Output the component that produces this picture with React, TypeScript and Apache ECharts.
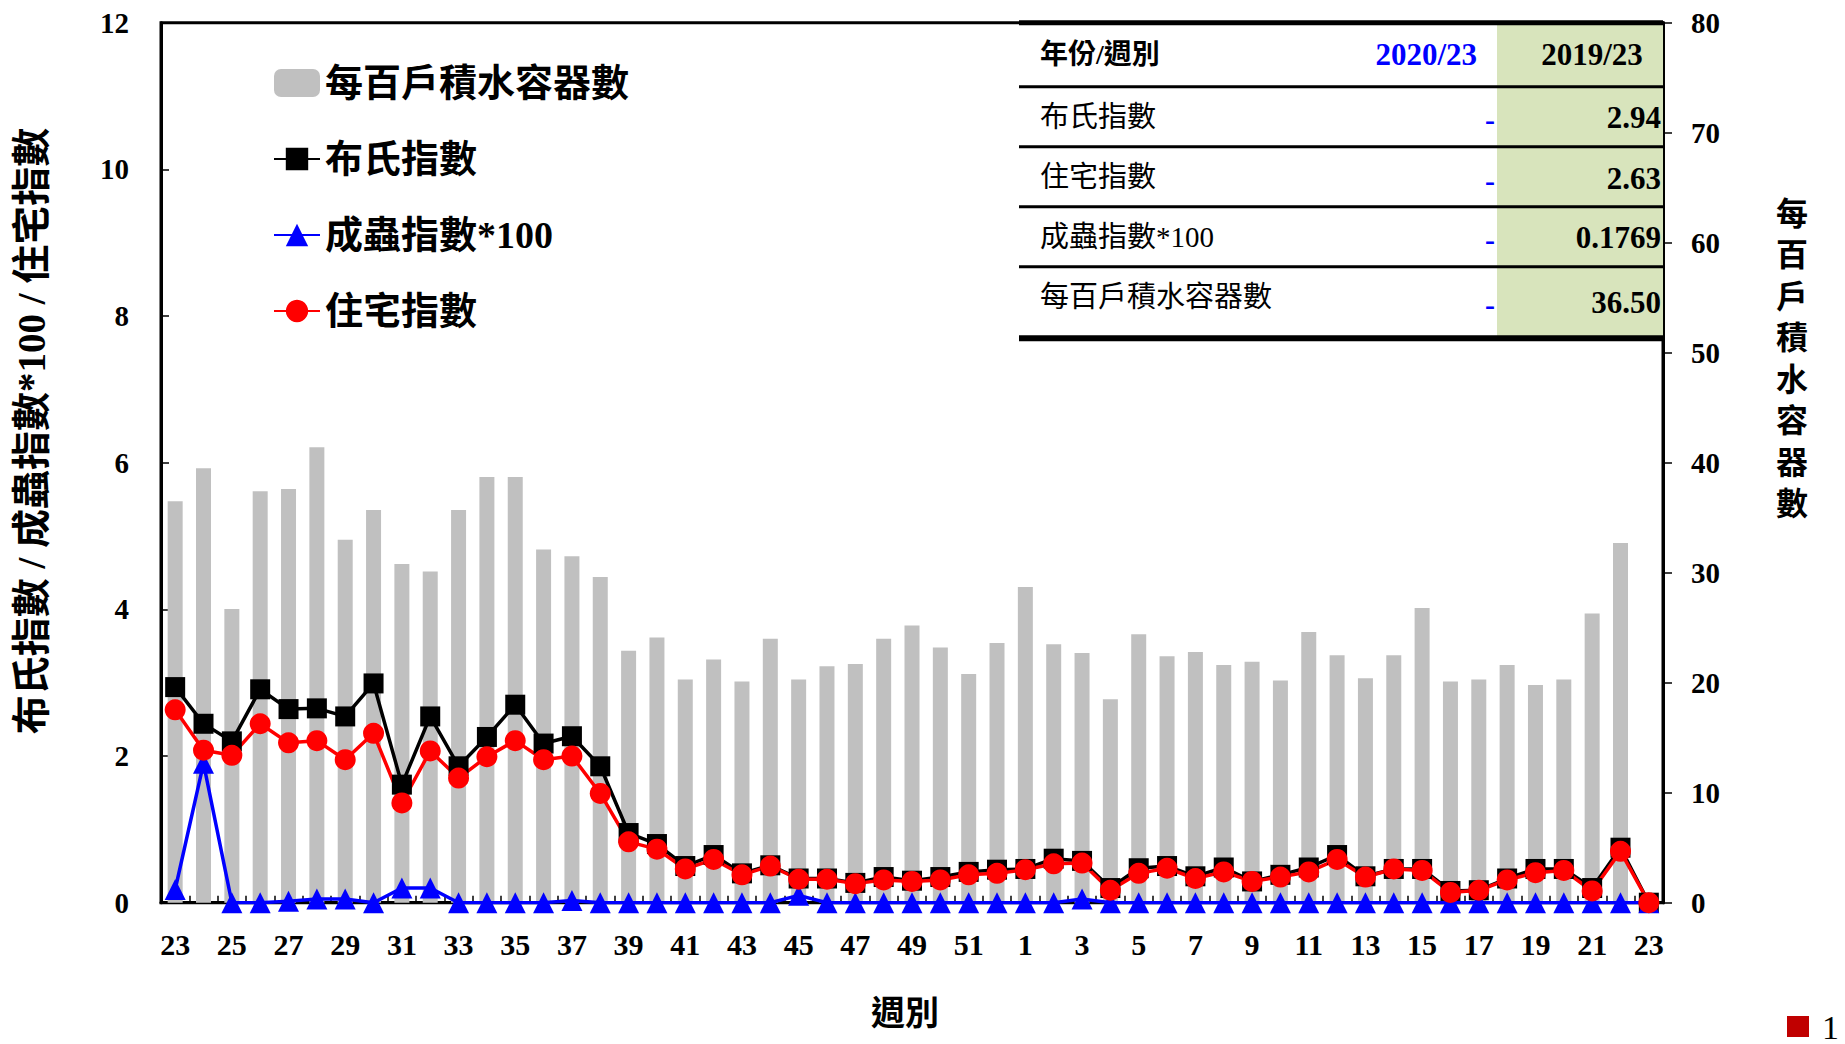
import React, { useEffect, useRef } from "react";
import * as echarts from "echarts";

const weeks = [
  "23","24","25","26","27","28","29","30","31","32","33","34","35","36","37","38","39","40","41","42","43","44","45","46","47","48","49","50","51","52",
  "1","2","3","4","5","6","7","8","9","10","11","12","13","14","15","16","17","18","19","20","21","22","23",
];

const containers = [
  36.5, 39.5, 26.7, 37.4, 37.6, 41.4, 33.0, 35.7, 30.8, 30.1, 35.7, 38.7, 38.7, 32.1, 31.5, 29.6, 22.9, 24.1,
  20.3, 22.1, 20.1, 24.0, 20.3, 21.5, 21.7, 24.0, 25.2, 23.2, 20.8, 23.6, 28.7, 23.5, 22.7, 18.5, 24.4,
  22.4, 22.8, 21.6, 21.9, 20.2, 24.6, 22.5, 20.4, 22.5, 26.8, 20.1, 20.3, 21.6, 19.8, 20.3, 26.3, 32.7, null,
];

const breteau = [
  2.94, 2.44, 2.2, 2.91, 2.64, 2.65, 2.54, 2.99, 1.61, 2.54, 1.86, 2.26, 2.7, 2.17, 2.27, 1.86, 0.95, 0.8,
  0.5, 0.65, 0.4, 0.51, 0.33, 0.33, 0.27, 0.35, 0.3, 0.35, 0.42, 0.45, 0.46, 0.6, 0.57, 0.2, 0.47,
  0.5, 0.36, 0.48, 0.29, 0.38, 0.48, 0.65, 0.36, 0.46, 0.46, 0.16, 0.17, 0.33, 0.46, 0.46, 0.2, 0.75, 0,
];

const adult100 = [
  0.18, 1.9, 0, 0, 0.02, 0.05, 0.05, 0, 0.2, 0.2, 0, 0, 0, 0, 0.03, 0, 0, 0,
  0, 0, 0, 0, 0.1, 0, 0, 0, 0, 0, 0, 0, 0, 0, 0.05, 0, 0,
  0, 0, 0, 0, 0, 0, 0, 0, 0, 0, 0, 0, 0, 0, 0, 0, 0, 0,
];

const house = [
  2.63, 2.08, 2.01, 2.44, 2.18, 2.21, 1.95, 2.31, 1.36, 2.07, 1.7, 1.99, 2.21, 1.95, 2.0, 1.49, 0.83, 0.73,
  0.46, 0.59, 0.38, 0.5, 0.32, 0.32, 0.26, 0.31, 0.29, 0.31, 0.38, 0.4, 0.45, 0.53, 0.54, 0.17, 0.4,
  0.47, 0.33, 0.42, 0.29, 0.35, 0.42, 0.59, 0.35, 0.46, 0.44, 0.14, 0.17, 0.31, 0.41, 0.44, 0.16, 0.7, 0,
];

const seriesNames = ["每百戶積水容器數", "布氏指數", "成蟲指數*100", "住宅指數"];

const tableHeader = ["年份/週別", "2020/23", "2019/23"];
const tableLabels = ["布氏指數", "住宅指數", "成蟲指數*100", "每百戶積水容器數"];
const table2020 = ["-", "-", "-", "-"];
const table2019 = ["2.94", "2.63", "0.1769", "36.50"];

const leftTitle = "布氏指數 / 成蟲指數*100 / 住宅指數";
const rightTitle = "每百戶積水容器數";
const xTitle = "週別";
const pageNo = "1";

const FONT = "'Liberation Serif', 'Noto Sans CJK TC', serif";

function buildTable(): any[] {
  const x0 = 1019;
  const x1 = 1663;
  const gx = 1497;
  const top = 22.7;
  const bottom = 338.3;
  const els: any[] = [];
  els.push({ type: "rect", shape: { x: x0, y: top, width: gx - x0, height: bottom - top }, style: { fill: "#ffffff" }, z: 10 });
  els.push({ type: "rect", shape: { x: gx, y: top, width: x1 - gx, height: bottom - top }, style: { fill: "#d8e4bc" }, z: 10 });
  const lines: [number, number][] = [
    [top, 5],
    [86.7, 3],
    [146.7, 3],
    [206.7, 3],
    [266.7, 3],
    [bottom, 6],
  ];
  lines.forEach(([y, w]) => {
    els.push({ type: "line", shape: { x1: x0, y1: y, x2: x1, y2: y }, style: { stroke: "#000", lineWidth: w }, z: 12 });
  });
  els.push({
    type: "text", x: 1040, y: 54, z: 13,
    style: { text: tableHeader[0], font: `bold 28px ${FONT}`, fill: "#000", align: "left", verticalAlign: "middle" },
  });
  els.push({
    type: "text", x: 1477, y: 54, z: 13,
    style: { text: tableHeader[1], font: `bold 31px ${FONT}`, fill: "#0000ff", align: "right", verticalAlign: "middle" },
  });
  els.push({
    type: "text", x: 1592, y: 54, z: 13,
    style: { text: tableHeader[2], font: `bold 31px ${FONT}`, fill: "#000", align: "center", verticalAlign: "middle" },
  });
  const labelY = [116.7, 176.7, 236.7, 296.7];
  const valueY = [117, 178, 237.5, 302.5];
  tableLabels.forEach((lab, i) => {
    els.push({
      type: "text", x: 1040, y: labelY[i], z: 13,
      style: { text: lab, font: `normal 29px ${FONT}`, fill: "#000", align: "left", verticalAlign: "middle" },
    });
    els.push({
      type: "text", x: 1495, y: valueY[i] + 2, z: 13,
      style: { text: table2020[i], font: `bold 30px ${FONT}`, fill: "#0000ff", align: "right", verticalAlign: "middle" },
    });
    els.push({
      type: "text", x: 1661, y: valueY[i], z: 13,
      style: { text: table2019[i], font: `bold 31px ${FONT}`, fill: "#000", align: "right", verticalAlign: "middle" },
    });
  });
  return els;
}

export default function App() {
  const ref = useRef<HTMLDivElement>(null);

  useEffect(() => {
    if (!ref.current) return;
    const chart = echarts.init(ref.current, undefined, { renderer: "svg" });
    const lineCommon = {
      type: "line",
      yAxisIndex: 0,
      showSymbol: true,
      showAllSymbol: true,
      symbolSize: 21,
    };
    const option: any = {
      animation: false,
      backgroundColor: "#ffffff",
      grid: {
        left: 161,
        right: 182,
        top: 22.7,
        bottom: 141.3,
        containLabel: false,
        show: true,
        borderColor: "#000",
        borderWidth: 3,
        backgroundColor: "transparent",
      },
      legend: {
        orient: "vertical",
        left: 268,
        top: 58,
        itemWidth: 46,
        itemHeight: 28,
        itemGap: 36,
        data: seriesNames,
        textStyle: { fontFamily: FONT, fontSize: 38, fontWeight: "bold", color: "#000", lineHeight: 40 },
      },
      xAxis: {
        type: "category",
        data: weeks,
        boundaryGap: true,
        axisLine: { show: true, lineStyle: { color: "#000", width: 3 } },
        axisTick: { show: true, inside: true, interval: 0, length: 7, lineStyle: { color: "#000", width: 1.5 } },
        axisLabel: { interval: 1, margin: 27, fontFamily: FONT, fontSize: 30, fontWeight: "bold", color: "#000" },
        splitLine: { show: false },
      },
      yAxis: [
        {
          type: "value",
          min: 0,
          max: 12,
          interval: 2,
          position: "left",
          axisLine: { show: true, lineStyle: { color: "#000", width: 3 } },
          axisTick: { show: true, inside: true, length: 8, lineStyle: { color: "#000", width: 1.5 } },
          axisLabel: { margin: 32, fontFamily: FONT, fontSize: 29, fontWeight: "bold", color: "#000" },
          splitLine: { show: false },
        },
        {
          type: "value",
          min: 0,
          max: 80,
          interval: 10,
          position: "right",
          axisLine: { show: true, lineStyle: { color: "#000", width: 3 } },
          axisTick: { show: true, inside: false, length: 9, lineStyle: { color: "#000", width: 1.5 } },
          axisLabel: { margin: 28, fontFamily: FONT, fontSize: 29, fontWeight: "bold", color: "#000" },
          splitLine: { show: false },
        },
      ],
      series: [
        {
          name: seriesNames[0],
          type: "bar",
          yAxisIndex: 1,
          data: containers,
          barWidth: 15,
          itemStyle: { color: "#c0c0c0" },
        },
        {
          ...lineCommon,
          name: seriesNames[1],
          data: breteau,
          symbol: "rect",
          symbolSize: 20,
          itemStyle: { color: "#000000" },
          lineStyle: { color: "#000000", width: 3.5 },
        },
        {
          ...lineCommon,
          name: seriesNames[2],
          data: adult100,
          symbol: "triangle",
          itemStyle: { color: "#0000ff" },
          lineStyle: { color: "#0000ff", width: 3.5 },
        },
        {
          ...lineCommon,
          name: seriesNames[3],
          data: house,
          symbol: "circle",
          itemStyle: { color: "#ff0000" },
          lineStyle: { color: "#ff0000", width: 3.5 },
        },
      ],
      graphic: [
        ...buildTable(),
        {
          type: "text",
          x: 31.7,
          y: 431,
          rotation: Math.PI / 2,
          style: { text: leftTitle, font: `bold 39px ${FONT}`, fill: "#000", align: "center", verticalAlign: "middle" },
        },
        {
          type: "text",
          x: 1792,
          y: 359,
          style: {
            text: rightTitle.split("").join("\n"),
            font: `bold 32px ${FONT}`,
            lineHeight: 41.5,
            fill: "#000",
            align: "center",
            verticalAlign: "middle",
          },
        },
        {
          type: "text",
          x: 905,
          y: 1013,
          style: { text: xTitle, font: `bold 34px ${FONT}`, fill: "#000", align: "center", verticalAlign: "middle" },
        },
        {
          type: "rect",
          shape: { x: 1787, y: 1016, width: 22, height: 21 },
          style: { fill: "#c00000" },
        },
        {
          type: "text",
          x: 1822,
          y: 1027,
          style: { text: pageNo, font: `normal 34px ${FONT}`, lineHeight: 30, fill: "#000", align: "left", verticalAlign: "middle" },
        },
      ],
    };
    chart.setOption(option);
    return () => chart.dispose();
  }, []);

  return (
    <div
      ref={ref}
      style={{ position: "fixed", left: 0, top: 0, width: 1845, height: 1044, background: "#fff" }}
    />
  );
}
